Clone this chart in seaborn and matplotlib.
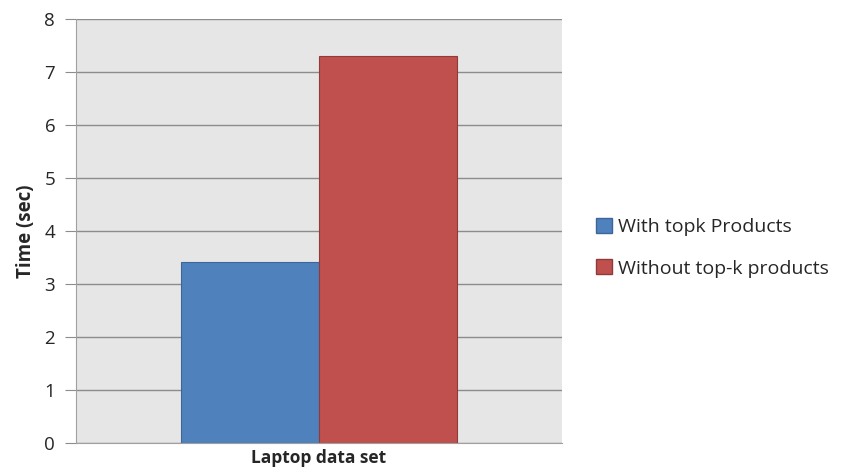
import matplotlib
matplotlib.use("Agg")
import matplotlib.pyplot as plt
import seaborn as sns
import pandas as pd
from matplotlib.patches import Patch

categories = ["Laptop data set"]
series = ["With topk Products", "Without top-k products"]
values_with = [3.42]
values_without = [7.31]
y_ticks = [0, 1, 2, 3, 4, 5, 6, 7, 8]

colors = ["#4F81BD", "#C0504D"]
edges = ["#3C6699", "#8E3C3A"]

df = pd.DataFrame({
    "dataset": categories * 2,
    "series": [series[0]] * len(categories) + [series[1]] * len(categories),
    "time": values_with + values_without,
})

sns.set_style("white")
plt.rcParams["font.family"] = ["Open Sans", "DejaVu Sans"]

fig = plt.figure(figsize=(8.47, 4.71), dpi=100)
ax = fig.add_axes([0.0897, 0.0594, 0.5738, 0.9003])

sns.barplot(data=df, x="dataset", y="time", hue="series", palette=colors,
            width=0.568, gap=0, ax=ax, legend=False, saturation=1)
for patch, ec in zip(ax.patches, edges):
    patch.set_edgecolor(ec)
    patch.set_linewidth(0.8)

ax.set_facecolor("#E6E6E6")
ax.set_xlim(-0.5, 0.5)
ax.set_ylim(0, 8)
ax.set_yticks(y_ticks)
ax.yaxis.grid(True, color="#8C8C8C", linewidth=1.0)
ax.set_axisbelow(True)
for s in ["top", "right"]:
    ax.spines[s].set_visible(False)
ax.spines["left"].set_color("#A0A0A0")
ax.spines["bottom"].set_color("#A0A0A0")
ax.tick_params(axis="y", length=8, color="#8C8C8C", labelsize=13.5, pad=7, left=True)
ax.tick_params(axis="x", length=0, labelsize=12.5, pad=4)
for lbl in ax.get_xticklabels():
    lbl.set_fontweight("bold")
ax.set_xlabel("")
ax.set_ylabel("Time (sec)", fontsize=13.5, fontweight="bold", labelpad=6)

handles = [Patch(facecolor=c, edgecolor=e, label=s) for c, e, s in zip(colors, edges, series)]
fig.legend(handles=handles, loc="center left", bbox_to_anchor=(0.688, 0.474),
           frameon=False, fontsize=14, handlelength=0.8, handleheight=0.8,
           handletextpad=0.3, labelspacing=1.2, borderpad=0.2)

fig.savefig("out.png", dpi=100)
